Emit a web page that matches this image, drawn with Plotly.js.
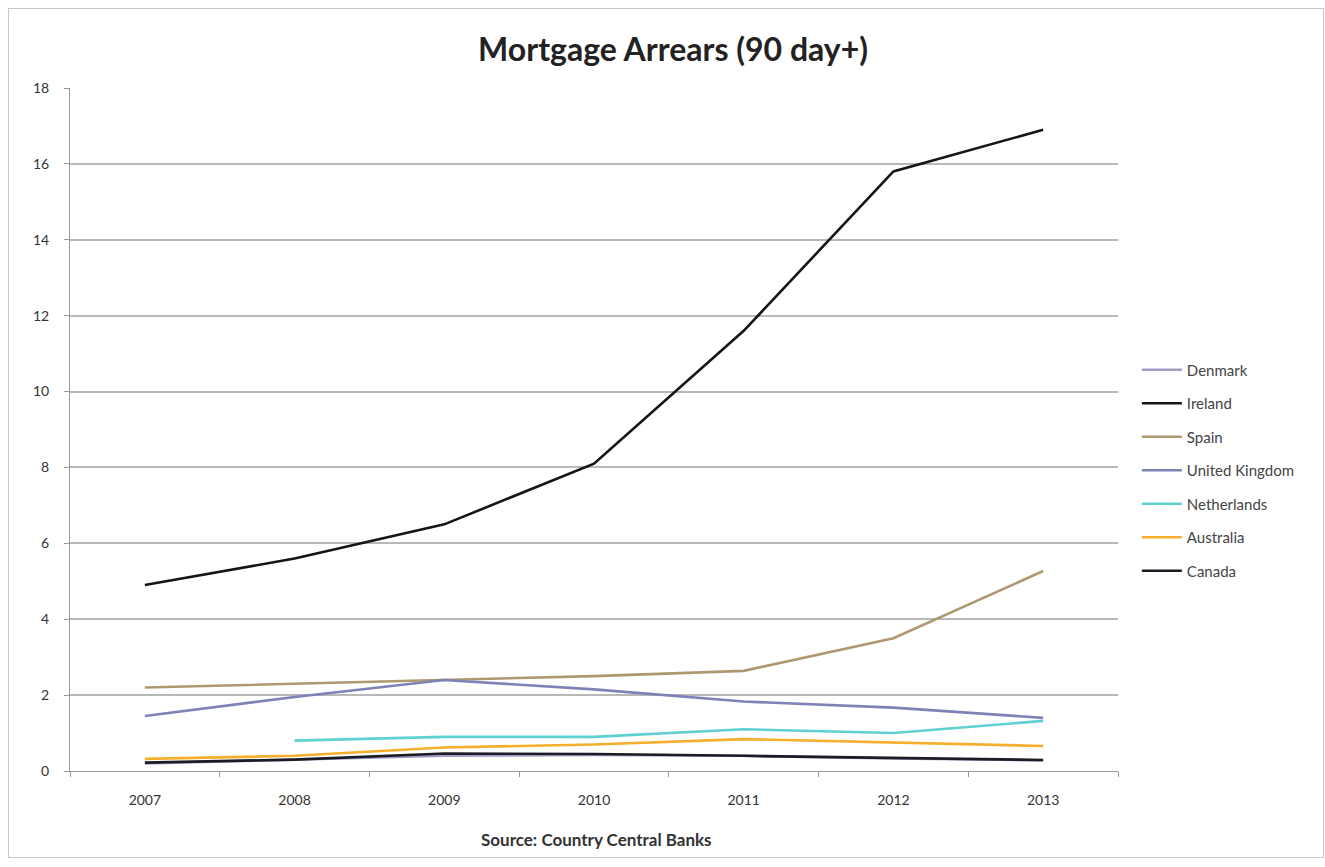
<!DOCTYPE html>
<html>
<head>
<meta charset="utf-8">
<script src="https://cdn.plot.ly/plotly-3.0.1.min.js"></script>
<style>
html,body{margin:0;padding:0;background:#fff;}
#frame{position:absolute;left:8px;top:8px;width:1316px;height:850px;border:1px solid #c8c8c8;box-sizing:border-box;}
#chart{position:absolute;left:0;top:0;width:1325px;height:867px;}
</style>
</head>
<body>
<div id="frame"></div>
<div id="chart"></div>
<script>
var years = ['2007','2008','2009','2010','2011','2012','2013'];
var denmark = [0.2, 0.3, 0.4, 0.42, 0.4, 0.33, 0.28];
var ireland = [4.9, 5.6, 6.5, 8.1, 11.6, 15.8, 16.9];
var spain = [2.2, 2.3, 2.4, 2.5, 2.64, 3.5, 5.27];
var uk = [1.45, 1.95, 2.4, 2.15, 1.83, 1.67, 1.4];
var netherlands = [null, 0.8, 0.9, 0.9, 1.1, 1.0, 1.32];
var australia = [0.32, 0.4, 0.62, 0.7, 0.84, 0.75, 0.66];
var canada = [0.22, 0.3, 0.46, 0.45, 0.4, 0.35, 0.29];

var names = ['Denmark','Ireland','Spain','United Kingdom','Netherlands','Australia','Canada'];
var series = [denmark, ireland, spain, uk, netherlands, australia, canada];
var colors = ['#a29dc6','#151515','#ae9870','#7f82b6','#5fd0d2','#f6ae2d','#1c1c24'];

var traces = names.map(function(n,i){
  return {
    x: years, y: series[i], name: n, type: 'scatter', mode: 'lines',
    line: {color: colors[i], width: 2.6},
    legendgroup: 'g'+i
  };
});

var layout = {
  width: 1325, height: 867,
  margin: {l: 70, r: 207, t: 88, b: 96},
  paper_bgcolor: 'rgba(0,0,0,0)', plot_bgcolor: '#fff',
  font: {family: 'Lato, "Open Sans", sans-serif', color: '#333'},
  title: {text: '<b>Mortgage Arrears (90 day+)</b>', font: {size: 32, color: '#222', family: 'Lato, "Open Sans", sans-serif'}, x: 0.508, xanchor: 'center', y: 0.942, yanchor: 'middle'},
  xaxis: {
    type: 'category', range: [-0.5, 6.5], tickson: 'boundaries',
    ticks: 'outside', ticklen: 5, tickcolor: '#999', showgrid: false,
    showline: true, linecolor: '#999', linewidth: 1, ticklabelstandoff: 16,
    tickfont: {size: 14, color: '#333'}, zeroline: false
  },
  yaxis: {
    range: [0, 18], dtick: 2, tick0: 0, ticks: 'outside', ticklen: 5, tickcolor: '#999',
    showgrid: true, gridcolor: '#b8b8b8', gridwidth: 1.5, ticklabelstandoff: 12,
    showline: true, linecolor: '#999', linewidth: 1, zeroline: false,
    tickfont: {size: 14, color: '#333'}
  },
  legend: {
    x: 1.018, xanchor: 'left', y: 0.44, yanchor: 'middle',
    font: {size: 15, color: '#444'}, traceorder: 'grouped', tracegroupgap: 11,
    itemwidth: 40, bgcolor: 'rgba(0,0,0,0)'
  },
  showlegend: true,
  annotations: [{
    text: '<b>Source: Country Central Banks</b>', xref: 'paper', yref: 'paper',
    x: 0.502, y: -0.1, xanchor: 'center', yanchor: 'middle', showarrow: false,
    font: {size: 17, color: '#333'}
  }]
};

Plotly.newPlot('chart', traces, layout, {displayModeBar: false});
</script>
</body>
</html>
